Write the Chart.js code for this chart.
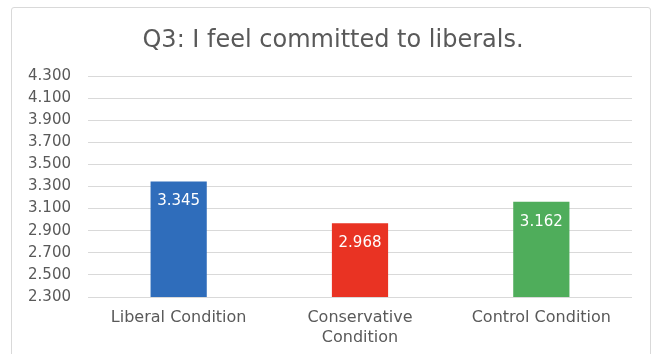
<!DOCTYPE html>
<html>
<head>
<meta charset="utf-8">
<script src="https://cdn.jsdelivr.net/npm/chart.js@4.4.1/dist/chart.umd.min.js"></script>
<style>
    body { margin: 0; background: #fff; }
    #cornice { position: absolute; left: 11px; top: 7px; width: 638px; height: 360px; border: 1px solid #d9d9d9; border-radius: 3px; }
    #grafico { position: absolute; left: 0; top: 0; }
</style>
</head>
<body>
<div id="cornice"></div>
<canvas id="grafico" width="655" height="354"></canvas>
<script>
var categorie = ['Liberal Condition', 'Conservative Condition', 'Control Condition'];
var valori = [3.345, 2.968, 3.162];
var colori = ['#2f6dbb', '#e93323', '#4fad5b'];
var titolo = 'Q3: I feel committed to liberals.';
var asseMin = 2.3;
var asseMax = 4.3;
var passo = 0.2;

var grigio = '#595959';
var font = '"DejaVu Sans", Verdana, sans-serif';

// titolo centrato sulla cornice, non sull'area del grafico
var titoloCornice = {
    id: 'titoloCornice',
    afterDraw: function (chart) {
        var ctx = chart.ctx;
        ctx.save();
        ctx.fillStyle = grigio;
        ctx.font = '24px ' + font;
        ctx.textAlign = 'center';
        ctx.textBaseline = 'alphabetic';
        ctx.fillText(titolo, 333, 47);
        ctx.restore();
    }
};

// etichette bianche dentro le barre
var etichetteValori = {
    id: 'etichetteValori',
    afterDatasetsDraw: function (chart) {
        var ctx = chart.ctx;
        var meta = chart.getDatasetMeta(0);
        ctx.save();
        ctx.fillStyle = '#ffffff';
        ctx.font = '15px ' + font;
        ctx.textAlign = 'center';
        ctx.textBaseline = 'middle';
        for (var i = 0; i < meta.data.length; i++) {
            var barra = meta.data[i];
            ctx.fillText(valori[i].toFixed(3), barra.x, barra.y + 20);
        }
        ctx.restore();
    }
};

var ctx = document.getElementById('grafico');
var chart = new Chart(ctx, {
    type: 'bar',
    data: {
        labels: categorie,
        datasets: [{
            data: valori,
            backgroundColor: colori,
            barPercentage: 0.31,
            categoryPercentage: 1
        }]
    },
    options: {
        responsive: false,
        animation: false,
        layout: { padding: { left: 0, right: 23, top: 76, bottom: 0 } },
        plugins: {
            legend: { display: false },
            tooltip: { enabled: false },
            title: { display: false }
        },
        scales: {
            x: {
                grid: { display: false, drawTicks: false },
                border: { display: false },
                ticks: {
                    color: grigio,
                    font: { family: font, size: 16, lineHeight: 1.25 },
                    padding: 11,
                    maxRotation: 0,
                    autoSkip: false,
                    callback: function (v, i) {
                        var t = categorie[i];
                        return t.length > 20 ? t.split(' ') : t;
                    }
                },
                afterFit: function (scale) { scale.height = 57; }
            },
            y: {
                min: asseMin,
                max: asseMax,
                grid: { color: '#d9d9d9', lineWidth: 1, drawTicks: false },
                border: { display: false },
                ticks: {
                    stepSize: passo,
                    autoSkip: false,
                    color: grigio,
                    padding: 17,
                    font: { family: font, size: 15 },
                    callback: function (v) { return v.toFixed(3); }
                },
                afterFit: function (scale) { scale.width = 88; }
            }
        }
    },
    plugins: [etichetteValori, titoloCornice]
});
</script>
</body>
</html>
